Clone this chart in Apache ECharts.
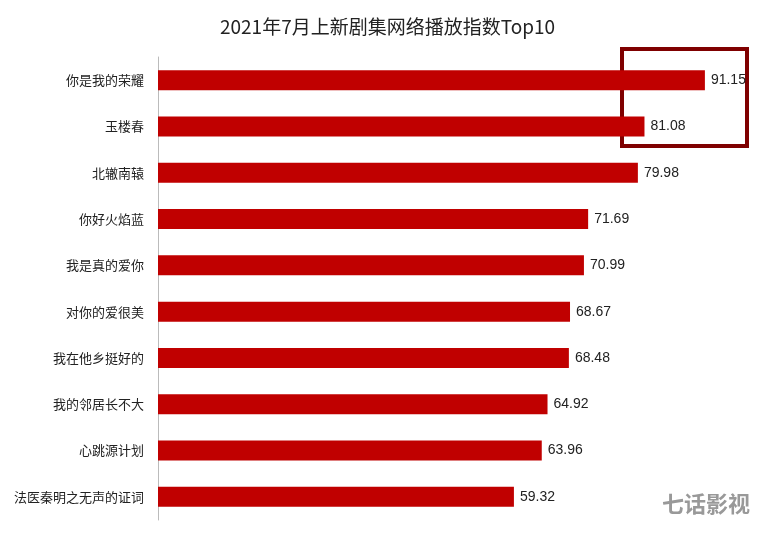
<!DOCTYPE html>
<html><head><meta charset="utf-8">
<script src="https://cdn.jsdelivr.net/npm/echarts@6/dist/echarts.min.js"></script>
<style>html,body{margin:0;padding:0;background:#fff}#c{width:775px;height:535px}</style>
</head><body><div id="c"></div>
<script>
var categories = ['你是我的荣耀','玉楼春','北辙南辕','你好火焰蓝','我是真的爱你','对你的爱很美','我在他乡挺好的','我的邻居长不大','心跳源计划','法医秦明之无声的证词'];
var values = [91.15,81.08,79.98,71.69,70.99,68.67,68.48,64.92,63.96,59.32];
var chart = echarts.init(document.getElementById('c'));
chart.setOption({
  animation:false,
  title:{text:'2021年7月上新剧集网络播放指数Top10',left:'center',top:12,textStyle:{fontSize:19,fontWeight:'normal',color:'#222',fontFamily:'Noto Sans CJK SC'}},
  grid:{left:158,top:57,width:600,height:463},
  xAxis:{type:'value',min:0,max:100,show:false},
  yAxis:{type:'category',inverse:true,data:categories,
    axisLine:{lineStyle:{color:'#bbb'}},axisTick:{show:false},
    axisLabel:{color:'#222',fontSize:13,margin:14,fontFamily:'Noto Sans CJK SC'}},
  series:[{type:'bar',data:values,barWidth:20,itemStyle:{color:'#c00000'},
    label:{show:true,position:'right',distance:6,color:'#222',fontSize:14,formatter:function(p){return p.value.toFixed(2);}}}],
  graphic:[
    {type:'rect',shape:{x:622,y:49,width:125,height:97},style:{fill:'none',stroke:'#7f0000',lineWidth:4}},
    {type:'text',left:662,top:493,style:{text:'七话影视',fill:'#999',font:'bold 22px "Noto Sans CJK SC"'}}
  ]
});
</script></body></html>
